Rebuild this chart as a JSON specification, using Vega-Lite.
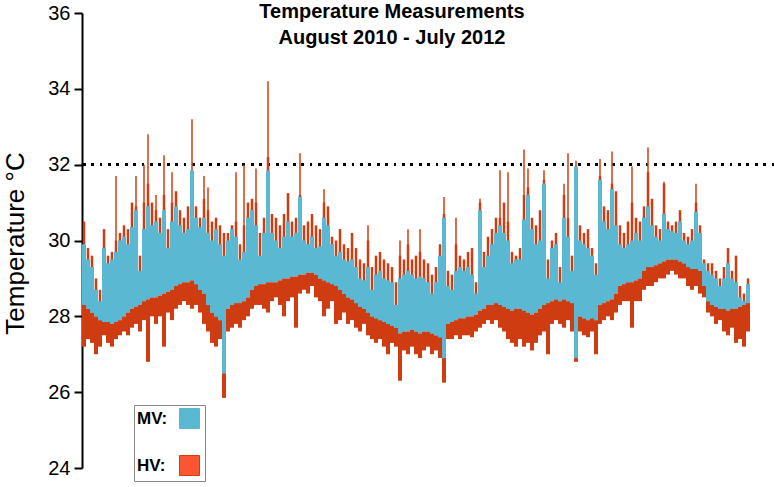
{
  "$schema": "https://vega.github.io/schema/vega-lite/v6.json",
  "width": 692,
  "height": 455,
  "autosize": {"type": "none"},
  "padding": {"left": 82, "top": 13, "right": 0, "bottom": 19},
  "background": "white",
  "config": {"view": {"stroke": null}, "font": "Liberation Sans"},
  "title": {
    "text": ["Temperature Measurements", "August 2010 - July 2012"],
    "fontSize": 20, "fontWeight": "bold", "font": "Liberation Sans", "color": "black",
    "lineHeight": 26, "offset": -45, "dx": -36, "anchor": "middle", "frame": "group"
  },
  "data": {"values": [
    {"x":2,"hl":27.2,"hh":30.5,"ml":28.3,"mh":29.9},
    {"x":6,"hl":27.4,"hh":29.8,"ml":28.2,"mh":29.5},
    {"x":10,"hl":27.3,"hh":29.6,"ml":28.1,"mh":29.3},
    {"x":14,"hl":27.0,"hh":29.0,"ml":28.0,"mh":28.7},
    {"x":18,"hl":27.2,"hh":28.7,"ml":27.9,"mh":28.4},
    {"x":22,"hl":27.5,"hh":30.3,"ml":27.85,"mh":29.8},
    {"x":26,"hl":27.3,"hh":29.6,"ml":27.85,"mh":29.4},
    {"x":30,"hl":27.2,"hh":29.7,"ml":27.8,"mh":29.5},
    {"x":34,"hl":27.4,"hh":30.0,"ml":27.85,"mh":29.7,"sp":31.7},
    {"x":38,"hl":27.5,"hh":30.2,"ml":27.9,"mh":30.0},
    {"x":42,"hl":27.6,"hh":30.4,"ml":28.0,"mh":30.1},
    {"x":46,"hl":27.5,"hh":30.3,"ml":28.1,"mh":29.9},
    {"x":50,"hl":27.7,"hh":31.0,"ml":28.2,"mh":30.35},
    {"x":54,"hl":27.8,"hh":30.9,"ml":28.25,"mh":30.8,"sp":31.7},
    {"x":58,"hl":27.6,"hh":29.6,"ml":28.3,"mh":29.2},
    {"x":62,"hl":27.9,"hh":31.0,"ml":28.4,"mh":30.3,"sp":32.0},
    {"x":66,"hl":26.8,"hh":31.5,"ml":28.45,"mh":30.9,"sp":32.8},
    {"x":70,"hl":28.0,"hh":31.0,"ml":28.5,"mh":30.4},
    {"x":74,"hl":27.8,"hh":30.8,"ml":28.5,"mh":30.5,"sp":31.2},
    {"x":78,"hl":28.0,"hh":30.6,"ml":28.55,"mh":30.2},
    {"x":82,"hl":27.2,"hh":31.2,"ml":28.6,"mh":30.8,"sp":32.25},
    {"x":86,"hl":28.1,"hh":30.3,"ml":28.65,"mh":29.8},
    {"x":90,"hl":27.9,"hh":31.0,"ml":28.7,"mh":30.5,"sp":31.8},
    {"x":94,"hl":28.2,"hh":31.3,"ml":28.8,"mh":30.9},
    {"x":98,"hl":28.3,"hh":30.8,"ml":28.85,"mh":30.4},
    {"x":102,"hl":28.4,"hh":30.6,"ml":28.9,"mh":30.2},
    {"x":106,"hl":28.3,"hh":30.9,"ml":28.9,"mh":30.3},
    {"x":110,"hl":28.2,"hh":31.4,"ml":28.95,"mh":31.85,"sp":33.2},
    {"x":114,"hl":28.3,"hh":30.9,"ml":28.85,"mh":30.6},
    {"x":118,"hl":28.1,"hh":30.6,"ml":28.7,"mh":30.35},
    {"x":122,"hl":27.8,"hh":31.1,"ml":28.6,"mh":30.6,"sp":31.7},
    {"x":126,"hl":27.6,"hh":30.8,"ml":28.3,"mh":30.2,"sp":31.4},
    {"x":130,"hl":27.3,"hh":30.5,"ml":28.1,"mh":30.0},
    {"x":134,"hl":27.2,"hh":30.6,"ml":28.0,"mh":30.3},
    {"x":138,"hl":27.4,"hh":30.4,"ml":27.9,"mh":29.9},
    {"x":142,"hl":25.85,"hh":30.2,"ml":26.5,"mh":29.6},
    {"x":146,"hl":27.6,"hh":30.2,"ml":28.2,"mh":30.0},
    {"x":150,"hl":27.7,"hh":30.4,"ml":28.3,"mh":30.3},
    {"x":154,"hl":27.8,"hh":30.5,"ml":28.35,"mh":30.1,"sp":31.8},
    {"x":158,"hl":27.7,"hh":29.9,"ml":28.35,"mh":29.5},
    {"x":162,"hl":27.9,"hh":30.4,"ml":28.4,"mh":29.7,"sp":32.0},
    {"x":166,"hl":28.0,"hh":31.0,"ml":28.5,"mh":30.6},
    {"x":170,"hl":28.2,"hh":31.1,"ml":28.7,"mh":30.8},
    {"x":174,"hl":28.3,"hh":31.0,"ml":28.8,"mh":30.4,"sp":31.9},
    {"x":178,"hl":28.3,"hh":30.2,"ml":28.85,"mh":29.6},
    {"x":182,"hl":28.2,"hh":30.6,"ml":28.85,"mh":30.2},
    {"x":186,"hl":28.1,"hh":32.2,"ml":28.9,"mh":31.85,"sp":34.2},
    {"x":190,"hl":28.4,"hh":30.7,"ml":28.9,"mh":30.2},
    {"x":194,"hl":28.5,"hh":30.6,"ml":28.9,"mh":30.0},
    {"x":198,"hl":28.3,"hh":30.4,"ml":28.95,"mh":29.8},
    {"x":202,"hl":28.0,"hh":30.7,"ml":29.0,"mh":30.1},
    {"x":206,"hl":28.4,"hh":31.25,"ml":29.0,"mh":30.5},
    {"x":210,"hl":28.5,"hh":30.5,"ml":29.05,"mh":30.1},
    {"x":214,"hl":27.7,"hh":30.6,"ml":29.05,"mh":30.2},
    {"x":218,"hl":28.6,"hh":31.2,"ml":29.1,"mh":31.15,"sp":32.3},
    {"x":222,"hl":28.7,"hh":30.4,"ml":29.1,"mh":30.0},
    {"x":226,"hl":28.6,"hh":30.5,"ml":29.15,"mh":29.9},
    {"x":230,"hl":28.8,"hh":30.7,"ml":29.15,"mh":30.1},
    {"x":234,"hl":28.5,"hh":30.4,"ml":29.1,"mh":29.8},
    {"x":238,"hl":28.4,"hh":30.3,"ml":29.0,"mh":29.85},
    {"x":242,"hl":28.0,"hh":31.0,"ml":28.95,"mh":30.6,"sp":31.35},
    {"x":246,"hl":28.2,"hh":30.9,"ml":28.9,"mh":30.4},
    {"x":250,"hl":28.4,"hh":30.1,"ml":28.85,"mh":29.9},
    {"x":254,"hl":27.8,"hh":30.0,"ml":28.8,"mh":29.6},
    {"x":258,"hl":27.9,"hh":30.3,"ml":28.7,"mh":29.7},
    {"x":262,"hl":28.1,"hh":29.9,"ml":28.6,"mh":29.5},
    {"x":266,"hl":27.8,"hh":29.8,"ml":28.5,"mh":29.45},
    {"x":270,"hl":27.9,"hh":30.2,"ml":28.45,"mh":29.5},
    {"x":274,"hl":27.7,"hh":29.8,"ml":28.35,"mh":29.3},
    {"x":278,"hl":27.6,"hh":29.5,"ml":28.25,"mh":29.0},
    {"x":282,"hl":27.8,"hh":29.4,"ml":28.2,"mh":28.95},
    {"x":286,"hl":27.5,"hh":30.0,"ml":28.1,"mh":29.3,"sp":30.4},
    {"x":290,"hl":27.4,"hh":29.3,"ml":28.0,"mh":28.7},
    {"x":294,"hl":27.3,"hh":29.6,"ml":27.95,"mh":29.1},
    {"x":298,"hl":27.4,"hh":29.7,"ml":27.9,"mh":29.2},
    {"x":302,"hl":27.2,"hh":29.5,"ml":27.85,"mh":29.0},
    {"x":306,"hl":27.0,"hh":29.4,"ml":27.8,"mh":28.95},
    {"x":310,"hl":27.3,"hh":29.3,"ml":27.75,"mh":28.9},
    {"x":314,"hl":27.2,"hh":28.9,"ml":27.7,"mh":28.3},
    {"x":318,"hl":26.3,"hh":29.6,"ml":27.55,"mh":29.0,"sp":30.0},
    {"x":322,"hl":27.1,"hh":29.5,"ml":27.6,"mh":29.1},
    {"x":326,"hl":27.0,"hh":29.9,"ml":27.6,"mh":29.2,"sp":30.3},
    {"x":330,"hl":27.2,"hh":29.5,"ml":27.65,"mh":29.1},
    {"x":334,"hl":27.0,"hh":29.6,"ml":27.6,"mh":29.0},
    {"x":338,"hl":26.9,"hh":29.7,"ml":27.55,"mh":29.05,"sp":30.3},
    {"x":342,"hl":27.1,"hh":29.5,"ml":27.6,"mh":29.0},
    {"x":346,"hl":27.2,"hh":29.4,"ml":27.6,"mh":28.9},
    {"x":350,"hl":27.0,"hh":29.1,"ml":27.55,"mh":28.6},
    {"x":354,"hl":27.1,"hh":29.3,"ml":27.5,"mh":28.9},
    {"x":358,"hl":26.9,"hh":29.9,"ml":27.45,"mh":29.6},
    {"x":362,"hl":26.25,"hh":30.7,"ml":26.9,"mh":30.6,"sp":31.15},
    {"x":366,"hl":27.4,"hh":29.2,"ml":27.8,"mh":28.8},
    {"x":370,"hl":27.4,"hh":29.1,"ml":27.85,"mh":28.7},
    {"x":374,"hl":27.5,"hh":29.9,"ml":27.9,"mh":29.2,"sp":30.6},
    {"x":378,"hl":27.4,"hh":29.6,"ml":27.95,"mh":29.3},
    {"x":382,"hl":27.5,"hh":29.5,"ml":27.95,"mh":29.2},
    {"x":386,"hl":27.5,"hh":29.7,"ml":28.0,"mh":29.3},
    {"x":390,"hl":27.45,"hh":29.8,"ml":28.0,"mh":29.1},
    {"x":394,"hl":27.6,"hh":28.9,"ml":28.05,"mh":28.6},
    {"x":398,"hl":27.7,"hh":31.0,"ml":28.15,"mh":30.8,"sp":31.1},
    {"x":402,"hl":27.8,"hh":29.7,"ml":28.2,"mh":29.3},
    {"x":406,"hl":27.9,"hh":30.1,"ml":28.3,"mh":29.6},
    {"x":410,"hl":27.8,"hh":30.3,"ml":28.3,"mh":29.9},
    {"x":414,"hl":27.9,"hh":30.6,"ml":28.35,"mh":30.2},
    {"x":418,"hl":27.7,"hh":30.6,"ml":28.3,"mh":30.4,"sp":31.85},
    {"x":422,"hl":27.6,"hh":31.0,"ml":28.25,"mh":30.2},
    {"x":426,"hl":27.4,"hh":30.5,"ml":28.2,"mh":30.0,"sp":31.8},
    {"x":430,"hl":27.3,"hh":29.7,"ml":28.15,"mh":29.4},
    {"x":434,"hl":27.2,"hh":29.6,"ml":28.2,"mh":29.5},
    {"x":438,"hl":27.4,"hh":29.8,"ml":28.2,"mh":29.5},
    {"x":442,"hl":27.2,"hh":31.2,"ml":28.15,"mh":30.55,"sp":32.4},
    {"x":446,"hl":27.3,"hh":31.4,"ml":28.1,"mh":31.2,"sp":31.9},
    {"x":450,"hl":27.1,"hh":30.6,"ml":28.05,"mh":30.3},
    {"x":454,"hl":27.3,"hh":30.4,"ml":28.1,"mh":29.9},
    {"x":458,"hl":27.5,"hh":30.8,"ml":28.2,"mh":30.0},
    {"x":462,"hl":27.6,"hh":31.6,"ml":28.3,"mh":31.5,"sp":31.85},
    {"x":466,"hl":27.0,"hh":29.5,"ml":28.35,"mh":29.0},
    {"x":470,"hl":27.8,"hh":30.0,"ml":28.4,"mh":29.8},
    {"x":474,"hl":27.9,"hh":30.2,"ml":28.45,"mh":29.9},
    {"x":478,"hl":27.8,"hh":29.3,"ml":28.4,"mh":28.9},
    {"x":482,"hl":27.7,"hh":31.2,"ml":28.45,"mh":30.6,"sp":31.5},
    {"x":486,"hl":27.9,"hh":30.6,"ml":28.4,"mh":30.1,"sp":32.3},
    {"x":490,"hl":27.6,"hh":29.6,"ml":28.35,"mh":29.2},
    {"x":494,"hl":26.8,"hh":31.9,"ml":26.9,"mh":31.95,"sp":32.1},
    {"x":498,"hl":27.6,"hh":30.4,"ml":28.0,"mh":30.0},
    {"x":502,"hl":27.5,"hh":30.2,"ml":27.95,"mh":29.9},
    {"x":506,"hl":27.45,"hh":30.3,"ml":27.9,"mh":29.8},
    {"x":510,"hl":27.6,"hh":29.8,"ml":27.95,"mh":29.6},
    {"x":514,"hl":27.0,"hh":29.4,"ml":27.9,"mh":29.1},
    {"x":518,"hl":27.8,"hh":31.7,"ml":28.3,"mh":31.6,"sp":32.15},
    {"x":522,"hl":27.9,"hh":30.9,"ml":28.35,"mh":30.5},
    {"x":526,"hl":28.0,"hh":30.8,"ml":28.4,"mh":30.3},
    {"x":530,"hl":27.9,"hh":31.5,"ml":28.45,"mh":31.35,"sp":32.35},
    {"x":534,"hl":28.1,"hh":31.3,"ml":28.6,"mh":30.4},
    {"x":538,"hl":28.3,"hh":30.4,"ml":28.8,"mh":29.9},
    {"x":542,"hl":28.4,"hh":30.2,"ml":28.85,"mh":29.8},
    {"x":546,"hl":28.4,"hh":30.5,"ml":28.9,"mh":29.9},
    {"x":550,"hl":27.7,"hh":31.0,"ml":28.9,"mh":30.0,"sp":31.95},
    {"x":554,"hl":28.4,"hh":30.6,"ml":28.95,"mh":30.2},
    {"x":558,"hl":28.4,"hh":30.5,"ml":29.0,"mh":30.0},
    {"x":562,"hl":28.7,"hh":30.9,"ml":29.2,"mh":30.6},
    {"x":566,"hl":28.8,"hh":31.8,"ml":29.3,"mh":30.9,"sp":32.45},
    {"x":570,"hl":28.8,"hh":31.1,"ml":29.3,"mh":30.4},
    {"x":574,"hl":28.9,"hh":30.4,"ml":29.35,"mh":30.1},
    {"x":578,"hl":29.0,"hh":30.3,"ml":29.4,"mh":30.0},
    {"x":582,"hl":29.0,"hh":31.5,"ml":29.45,"mh":30.7,"sp":31.55},
    {"x":586,"hl":29.1,"hh":30.5,"ml":29.5,"mh":30.3},
    {"x":590,"hl":29.2,"hh":30.4,"ml":29.5,"mh":30.25},
    {"x":594,"hl":29.1,"hh":30.5,"ml":29.5,"mh":30.2},
    {"x":598,"hl":29.0,"hh":30.8,"ml":29.45,"mh":30.5},
    {"x":602,"hl":29.0,"hh":30.2,"ml":29.4,"mh":30.0},
    {"x":606,"hl":28.8,"hh":30.1,"ml":29.3,"mh":29.9},
    {"x":610,"hl":28.7,"hh":30.3,"ml":29.25,"mh":30.0},
    {"x":614,"hl":28.8,"hh":31.0,"ml":29.25,"mh":30.75,"sp":31.5},
    {"x":618,"hl":28.6,"hh":30.4,"ml":29.2,"mh":30.2},
    {"x":622,"hl":28.5,"hh":29.5,"ml":28.8,"mh":29.4},
    {"x":626,"hl":28.1,"hh":29.4,"ml":28.4,"mh":29.2},
    {"x":630,"hl":28.0,"hh":29.4,"ml":28.3,"mh":29.1},
    {"x":634,"hl":27.8,"hh":29.2,"ml":28.25,"mh":29.0},
    {"x":638,"hl":27.9,"hh":29.0,"ml":28.2,"mh":28.8},
    {"x":642,"hl":27.6,"hh":29.3,"ml":28.2,"mh":29.0},
    {"x":646,"hl":27.5,"hh":29.8,"ml":28.15,"mh":29.4},
    {"x":650,"hl":27.7,"hh":29.2,"ml":28.2,"mh":29.0},
    {"x":654,"hl":27.3,"hh":29.6,"ml":28.2,"mh":28.9},
    {"x":658,"hl":27.4,"hh":28.8,"ml":28.25,"mh":28.5},
    {"x":662,"hl":27.2,"hh":28.6,"ml":28.3,"mh":28.4},
    {"x":666,"hl":27.6,"hh":29.0,"ml":28.35,"mh":28.85}
  ]},
  "layer": [
    {
      "mark": {"type": "rule", "strokeDash": [2, 6.4], "strokeWidth": 2, "color": "black"},
      "encoding": {"y": {"datum": 32}}
    },
    {
      "mark": {"type": "rule", "strokeWidth": 4, "strokeCap": "butt"},
      "encoding": {
        "x": {"field": "x", "type": "quantitative", "axis": null, "scale": {"domain": [0, 692], "nice": false, "zero": false}},
        "y": {"field": "hl", "type": "quantitative",
          "scale": {"domain": [24, 36], "nice": false, "zero": false},
          "axis": {
            "values": [24, 26, 28, 30, 32, 34, 36],
            "grid": false, "domainColor": "black", "domainWidth": 2,
            "tickColor": "black", "tickWidth": 2, "tickSize": 8,
            "labelFontSize": 20, "labelColor": "black", "labelFont": "Liberation Sans", "labelPadding": 4,
            "title": "Temperature °C", "titleFontSize": 26, "titleFontWeight": "normal",
            "titleFont": "Liberation Sans", "titleColor": "black",
            "titleX": -59, "titleY": 230, "titleAngle": -90, "titleAlign": "center", "titleBaseline": "alphabetic"
          }},
        "y2": {"field": "ml"},
        "color": {"datum": "HV", "type": "nominal",
          "scale": {"domain": ["MV", "HV"], "range": ["#5ab8d2", "#d03c12"]},
          "legend": {
            "title": null, "orient": "none", "legendX": 52, "legendY": 392,
            "symbolType": "square", "symbolSize": 400, "symbolOffset": 42, "labelOffset": -63,
            "labelFontSize": 17, "labelFontWeight": "bold", "labelFont": "Liberation Sans", "labelColor": "black",
            "labelExpr": "datum.label + ':'", "rowPadding": 22, "padding": 3,
            "strokeColor": "#888", "fillColor": "white",
            "encode": {"symbols": {"update": {
              "fill": {"signal": "datum.value === 'HV' ? '#fc5533' : '#5ab8d2'"},
              "stroke": {"value": "#333"}, "strokeWidth": {"value": 1},
              "shape": {"value": "square"}, "size": {"value": 400}, "opacity": {"value": 1}
            }}}
          }}
      }
    },
    {
      "mark": {"type": "rule", "strokeWidth": 2.5, "strokeCap": "butt", "color": "#d03c12"},
      "encoding": {
        "x": {"field": "x", "type": "quantitative"},
        "y": {"field": "ml", "type": "quantitative"},
        "y2": {"field": "hh"}
      }
    },
    {
      "transform": [{"filter": "datum.sp != null"}],
      "mark": {"type": "rule", "strokeWidth": 1.5, "color": "#d03c12"},
      "encoding": {
        "x": {"field": "x", "type": "quantitative"},
        "y": {"field": "ml", "type": "quantitative"},
        "y2": {"field": "sp"}
      }
    },
    {
      "mark": {"type": "rule", "strokeWidth": 4, "strokeCap": "butt"},
      "encoding": {
        "x": {"field": "x", "type": "quantitative"},
        "y": {"field": "ml", "type": "quantitative"},
        "y2": {"field": "mh"},
        "color": {"datum": "MV", "type": "nominal"}
      }
    }
  ]
}
